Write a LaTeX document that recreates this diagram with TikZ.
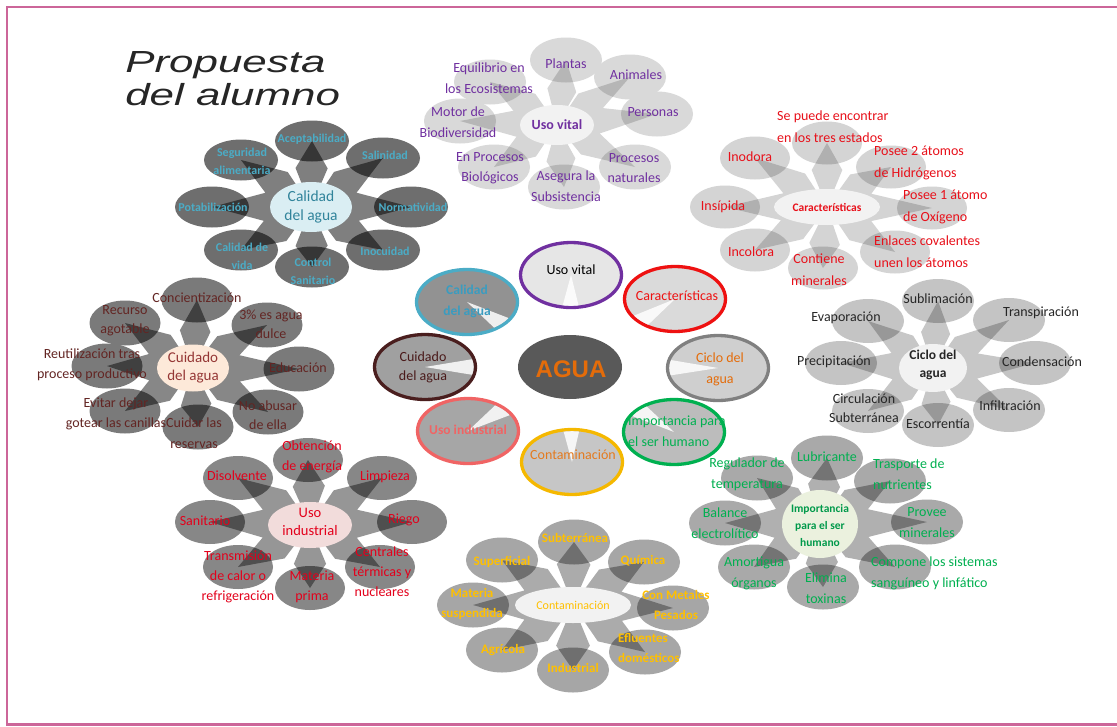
\documentclass[tikz,border=0pt]{standalone}
\usepackage{fontspec}
\setmainfont{Carlito}
\newfontfamily\arialf{Liberation Sans}
\usetikzlibrary{shapes.geometric,calc}
\definecolor{frameC}{HTML}{CC6699}
\definecolor{titleC}{HTML}{262626}
\definecolor{hubG}{HTML}{F2F2F2}
\definecolor{caSat}{HTML}{6E6E6E}
\definecolor{caHub}{HTML}{DAEEF3}
\definecolor{caTxt}{HTML}{4BACC6}
\definecolor{caHubTxt}{HTML}{31849B}
\definecolor{uvSat}{HTML}{D9D9D9}
\definecolor{uvTxt}{HTML}{7030A0}
\definecolor{chSat}{HTML}{D4D4D4}
\definecolor{chTxt}{HTML}{E8101A}
\definecolor{ciSat}{HTML}{C4C4C4}
\definecolor{ciTxt}{HTML}{262626}
\definecolor{imSat}{HTML}{A9A9A9}
\definecolor{imHub}{HTML}{EBF1DE}
\definecolor{imTxt}{HTML}{00B050}
\definecolor{imHubTxt}{HTML}{00994A}
\definecolor{coSat}{HTML}{A6A6A6}
\definecolor{coTxt}{HTML}{FFC000}
\definecolor{uiSat}{HTML}{878787}
\definecolor{uiHub}{HTML}{F2DCDB}
\definecolor{uiTxt}{HTML}{E3001B}
\definecolor{cuSat}{HTML}{7A7A7A}
\definecolor{cuHub}{HTML}{FDE9D9}
\definecolor{cuTxt}{HTML}{632523}
\definecolor{cuHubTxt}{HTML}{953735}
\definecolor{aguaC}{HTML}{595959}
\definecolor{aguaTxt}{HTML}{E46C0A}
\definecolor{rf1}{HTML}{E6E6E6}
\definecolor{rf2}{HTML}{DADADA}
\definecolor{rf3}{HTML}{CFCFCF}
\definecolor{rf4}{HTML}{BCBCBC}
\definecolor{rf5}{HTML}{C6C6C6}
\definecolor{rf6}{HTML}{A6A6A6}
\definecolor{rf7}{HTML}{A0A0A0}
\definecolor{rf8}{HTML}{929292}
\definecolor{rb1}{HTML}{7030A0}
\definecolor{rb2}{HTML}{EE1111}
\definecolor{rb3}{HTML}{808080}
\definecolor{rb4}{HTML}{00B050}
\definecolor{rb5}{HTML}{F5B800}
\definecolor{rb6}{HTML}{F06464}
\definecolor{rb7}{HTML}{4A1E1E}
\definecolor{rb8}{HTML}{4BACC6}
\definecolor{rt3}{HTML}{E46C0A}
\definecolor{rt5}{HTML}{E47A1E}
\definecolor{rt7}{HTML}{4A1A1A}
\definecolor{rt8}{HTML}{3A9CC0}
\newcommand\clusterstar[3]{%
  \fill[black, fill opacity=#3] foreach \i in {1,...,8} {(#1) -- ($(#1)!#2!22.5:(#1\i.center)$) -- (#1\i.center) -- ($(#1)!#2!-22.5:(#1\i.center)$) -- cycle};}
\tikzset{
  sat/.style={ellipse, inner sep=0pt, minimum width=72pt, minimum height=45pt},
  hub/.style={ellipse, inner sep=0pt},
  L/.style={inner sep=0pt, align=center, font=\fontsize{14}{20.5}\selectfont},
  ring/.style={ellipse, inner sep=0pt, minimum width=101pt, minimum height=65pt, line width=3.3pt},
  wedge/.style={fill=white, fill opacity=0.85},
}
\begin{document}
\begin{tikzpicture}[x=1pt,y=-1pt]
\useasboundingbox (0,0) rectangle (1117,726);
\fill[white] (0,0) rectangle (1117,726);
\draw[frameC, line width=2.5pt] (1117,7) -- (7,7) -- (7,724.5) -- (1117,724.5);

% Title
\node[anchor=base west, xscale=1.44, inner sep=0pt, text=titleC, font=\arialf\itshape\fontsize{30.5}{33}\selectfont] (ti1) at (125,72) {Propuesta};
\node[anchor=base west, xscale=1.44, inner sep=0pt, text=titleC, font=\arialf\itshape\fontsize{30.5}{33}\selectfont] (ti2) at (125,105) {del alumno};

% ===== Calidad del agua =====
\coordinate (ca) at (311,207);
\begin{scope}[every node/.append style={sat, fill=caSat, minimum width=74pt, minimum height=41pt}]
\node (ca1) at (312,141) {};
\node (ca2) at (383,158) {};
\node (ca3) at (411,207) {};
\node (ca4) at (383,250) {};
\node (ca5) at (312,267) {};
\node (ca6) at (241,250) {};
\node (ca7) at (212,207) {};
\node (ca8) at (241,160) {};
\end{scope}
\clusterstar{ca}{42pt}{0.5}
\node[hub, fill=caHub, minimum width=82pt, minimum height=50pt] (cah) at (ca) {};
\node[L, text=caHubTxt, font=\fontsize{15.5}{19}\selectfont] (caht) at (311,207) {Calidad\\del agua};
\begin{scope}[every node/.append style={L, text=caTxt, font=\bfseries\fontsize{12}{18}\selectfont}]
\node (ca1t) at (312,139) {Aceptabilidad};
\node (ca2t) at (385,155) {Salinidad};
\node (ca3t) at (413,207) {Normatividad};
\node (ca4t) at (385,251) {Inocuidad};
\node (ca5t) at (313,271) {Control\\Sanitario};
\node (ca6t) at (242,256) {Calidad de\\vida};
\node (ca7t) at (213,207) {Potabilización};
\node (ca8t) at (242,161) {Seguridad\\alimentaria};
\end{scope}

% ===== Uso vital =====
\coordinate (uv) at (557,125);
\begin{scope}[every node/.append style={sat, fill=uvSat}]
\node (uv1) at (566,60) {};
\node (uv2) at (630,77) {};
\node (uv3) at (657,114) {};
\node (uv4) at (635,167) {};
\node (uv5) at (564,187) {};
\node (uv6) at (494,167) {};
\node (uv7) at (460,121) {};
\node (uv8) at (490,82) {};
\end{scope}
\clusterstar{uv}{38pt}{0.16}
\node[hub, fill=hubG, minimum width=74pt, minimum height=40pt] (uvh) at (uv) {};
\node[L, text=uvTxt, font=\bfseries\fontsize{14}{20}\selectfont] (uvht) at (557,125) {Uso vital};
\begin{scope}[every node/.append style={L, text=uvTxt}]
\node (uv1t) at (566,64) {Plantas};
\node (uv2t) at (636,75) {Animales};
\node (uv3t) at (653,112) {Personas};
\node (uv4t) at (634,168) {Procesos\\naturales};
\node (uv5t) at (566,186) {Asegura la\\Subsistencia};
\node (uv6t) at (490,168) {En Procesos\\Biológicos};
\node (uv7t) at (458,122) {Motor de\\Biodiversidad};
\node (uv8t) at (489,78) {Equilibrio en\\los Ecosistemas};
\end{scope}

% ===== Caracteristicas =====
\coordinate (ch) at (827,207);
\begin{scope}[every node/.append style={sat, fill=chSat, minimum width=70pt, minimum height=43pt}]
\node (ch1) at (827,143) {};
\node (ch2) at (891,167) {};
\node (ch3) at (932,208) {};
\node (ch4) at (895,252) {};
\node (ch5) at (823,268) {};
\node (ch6) at (755,250) {};
\node (ch7) at (725,207) {};
\node (ch8) at (755,158) {};
\end{scope}
\clusterstar{ch}{40pt}{0.17}
\node[hub, fill=hubG, minimum width=106pt, minimum height=36pt] (chh) at (ch) {};
\node[L, text=chTxt, font=\bfseries\fontsize{11.5}{16}\selectfont] (chht) at (827,207) {Características};
\begin{scope}[every node/.append style={L, text=chTxt, font=\fontsize{14}{22}\selectfont}]
\node[anchor=west, align=left] (ch1t) at (777,127) {Se puede encontrar\\en los tres estados};
\node[anchor=west, align=left] (ch2t) at (874,163) {Posee 2 átomos\\de Hidrógenos};
\node[anchor=west, align=left] (ch3t) at (903,207) {Posee 1 átomo\\de Oxígeno};
\node[anchor=west, align=left] (ch4t) at (874,252) {Enlaces covalentes\\unen los átomos};
\node (ch5t) at (819,270) {Contiene\\minerales};
\node (ch6t) at (751,252) {Incolora};
\node (ch7t) at (723,207) {Insípida};
\node (ch8t) at (750,157) {Inodora};
\end{scope}

% ===== Ciclo del agua =====
\coordinate (ci) at (933,368);
\begin{scope}[every node/.append style={sat, fill=ciSat, minimum width=72pt, minimum height=44pt}]
\node (ci1) at (938,301) {};
\node (ci2) at (1009,320) {};
\node (ci3) at (1035,363) {};
\node (ci4) at (1009,410) {};
\node (ci5) at (938,425) {};
\node (ci6) at (868,411) {};
\node (ci7) at (841,363) {};
\node (ci8) at (868,321) {};
\end{scope}
\clusterstar{ci}{38pt}{0.22}
\node[hub, fill=hubG, minimum width=68pt, minimum height=48pt] (cih) at (ci) {};
\node[L, text=ciTxt, font=\bfseries\fontsize{13.5}{18}\selectfont] (ciht) at (933,365) {Ciclo del\\agua};
\begin{scope}[every node/.append style={L, text=ciTxt, font=\fontsize{14}{19}\selectfont}]
\node (ci1t) at (938,299) {Sublimación};
\node (ci2t) at (1041,313) {Transpiración};
\node (ci3t) at (1042,362) {Condensación};
\node (ci4t) at (1010,406) {Infiltración};
\node (ci5t) at (938,424) {Escorrentía};
\node (ci6t) at (864,408) {Circulación\\Subterránea};
\node (ci7t) at (834,362) {Precipitación};
\node (ci8t) at (846,318) {Evaporación};
\end{scope}

% ===== Importancia =====
\coordinate (im) at (820,524);
\begin{scope}[every node/.append style={sat, fill=imSat}]
\node (im1) at (827,458) {};
\node (im2) at (890,481) {};
\node (im3) at (927,522) {};
\node (im4) at (895,567) {};
\node (im5) at (823,587) {};
\node (im6) at (754,567) {};
\node (im7) at (725,523) {};
\node (im8) at (757,478) {};
\end{scope}
\clusterstar{im}{42pt}{0.31}
\node[hub, fill=imHub, minimum width=76pt, minimum height=68pt] (imh) at (im) {};
\node[L, text=imHubTxt, font=\bfseries\fontsize{11.5}{17}\selectfont] (imht) at (820,525) {Importancia\\para el ser\\humano};
\begin{scope}[every node/.append style={L, text=imTxt, font=\fontsize{14}{21}\selectfont}]
\node (im1t) at (827,457) {Lubricante};
\node[anchor=west, align=left] (im2t) at (873,474) {Trasporte de\\nutrientes};
\node (im3t) at (927,523) {Provee\\minerales};
\node[anchor=west, align=left] (im4t) at (871,573) {Compone los sistemas\\sanguíneo y linfático};
\node (im5t) at (826,588) {Elimina\\toxinas};
\node (im6t) at (754,573) {Amortigua\\órganos};
\node (im7t) at (725,523) {Balance\\electrolítico};
\node (im8t) at (747,474) {Regulador de\\temperatura};
\end{scope}

% ===== Contaminacion =====
\coordinate (co) at (573,605);
\begin{scope}[every node/.append style={sat, fill=coSat}]
\node (co1) at (574,542) {};
\node (co2) at (644,562) {};
\node (co3) at (673,608) {};
\node (co4) at (645,652) {};
\node (co5) at (573,670) {};
\node (co6) at (502,650) {};
\node (co7) at (473,605) {};
\node (co8) at (502,560) {};
\end{scope}
\clusterstar{co}{44pt}{0.33}
\node[hub, fill=hubG, minimum width=116pt, minimum height=36pt] (coh) at (co) {};
\node[L, text=coTxt, font=\fontsize{12}{16}\selectfont] (coht) at (573,605) {Contaminación};
\begin{scope}[every node/.append style={L, text=coTxt, font=\bfseries\fontsize{13}{20}\selectfont}]
\node (co1t) at (575,538) {Subterránea};
\node (co2t) at (643,561) {Química};
\node (co3t) at (676,605) {Con Metales\\Pesados};
\node[anchor=west, align=left] (co4t) at (618,648) {Efluentes\\domésticos};
\node (co5t) at (573,668) {Industrial};
\node (co6t) at (503,650) {Agrícola};
\node (co7t) at (472,604) {Materia\\suspendida};
\node (co8t) at (502,562) {Superficial};
\end{scope}

% ===== Uso industrial =====
\coordinate (ui) at (310,525);
\begin{scope}[every node/.append style={sat, fill=uiSat, minimum width=70pt, minimum height=44pt}]
\node (ui1) at (308,460) {};
\node (ui2) at (382,478) {};
\node (ui3) at (412,522) {};
\node (ui4) at (380,567) {};
\node (ui5) at (310,588) {};
\node (ui6) at (238,567) {};
\node (ui7) at (210,522) {};
\node (ui8) at (238,478) {};
\end{scope}
\clusterstar{ui}{42pt}{0.41}
\node[hub, fill=uiHub, minimum width=84pt, minimum height=46pt] (uih) at (ui) {};
\node[L, text=uiTxt, font=\fontsize{14.5}{18}\selectfont] (uiht) at (310,522) {Uso\\industrial};
\begin{scope}[every node/.append style={L, text=uiTxt, font=\fontsize{14}{20}\selectfont}]
\node (ui1t) at (312,457) {Obtención\\de energía};
\node (ui2t) at (385,477) {Limpieza};
\node (ui3t) at (404,520) {Riego};
\node (ui4t) at (382,572) {Centrales\\térmicas y\\nucleares};
\node (ui5t) at (312,587) {Materia\\prima};
\node (ui6t) at (238,577) {Transmisión\\de calor o\\refrigeración};
\node (ui7t) at (205,521) {Sanitario};
\node (ui8t) at (237,476) {Disolvente};
\end{scope}

% ===== Cuidado del agua =====
\coordinate (cu) at (193,368);
\begin{scope}[every node/.append style={sat, fill=cuSat, minimum width=71pt, minimum height=45pt}]
\node (cu1) at (197,300) {};
\node (cu2) at (267,325) {};
\node (cu3) at (299,369) {};
\node (cu4) at (268,412) {};
\node (cu5) at (198,427) {};
\node (cu6) at (125,411) {};
\node (cu7) at (107,366) {};
\node (cu8) at (125,323) {};
\end{scope}
\clusterstar{cu}{40pt}{0.47}
\node[hub, fill=cuHub, minimum width=72pt, minimum height=47pt] (cuh) at (cu) {};
\node[L, text=cuHubTxt, font=\fontsize{15}{18}\selectfont] (cuht) at (193,368) {Cuidado\\del agua};
\begin{scope}[every node/.append style={L, text=cuTxt, font=\fontsize{14}{19}\selectfont}]
\node (cu1t) at (197,298) {Concientización};
\node (cu2t) at (271,324) {3\% es agua\\dulce};
\node (cu3t) at (298,368) {Educación};
\node (cu4t) at (268,415) {No abusar\\de ella};
\node[font=\fontsize{14}{21}\selectfont] (cu5t) at (194,433) {Cuidar las\\reservas};
\node[font=\fontsize{14}{20}\selectfont] (cu6t) at (116,414) {Evitar dejar\\gotear las canillas};
\node[font=\fontsize{14}{20}\selectfont] (cu7t) at (92,365) {Reutilización tras\\proceso productivo};
\node (cu8t) at (125,321) {Recurso\\agotable};
\end{scope}

% ===== Central ring =====
\coordinate (agua) at (570,367);
\node[ring, fill=rf1, draw=rb1] (r1) at (571,275) {};
\node[ring, fill=rf2, draw=rb2] (r2) at (675,299) {};
\node[ring, fill=rf3, draw=rb3] (r3) at (718,368) {};
\node[ring, fill=rf4, draw=rb4] (r4) at (674,432) {};
\node[ring, fill=rf5, draw=rb5] (r5) at (572,462) {};
\node[ring, fill=rf6, draw=rb6] (r6) at (468,431) {};
\node[ring, fill=rf7, draw=rb7] (r7) at (425,367) {};
\node[ring, fill=rf8, draw=rb8] (r8) at (467,302) {};
\foreach \i in {1,...,8} {
  \begin{scope}
    \clip (r\i.center) ellipse [x radius=48.6pt, y radius=30.8pt];
    \fill[wedge] ($(agua)!24pt!90:(r\i.center)$) -- (r\i.center) -- ($(agua)!24pt!-90:(r\i.center)$) -- cycle;
  \end{scope}
}
\node[ellipse, inner sep=0pt, fill=aguaC, minimum width=104pt, minimum height=64pt] (aguan) at (agua) {};
\node[inner sep=0pt, text=aguaTxt, font=\arialf\bfseries\fontsize{24}{24}\selectfont] (aguat) at (571,369) {AGUA};

\node[L, text=black] (r1t) at (571,270) {Uso vital};
\node[L, text=rb2] (r2t) at (677,296) {Características};
\node[L, text=rt3, font=\fontsize{14}{21}\selectfont] (r3t) at (720,369) {Ciclo del\\agua};
\node[L, text=rb4, anchor=west, align=left, font=\fontsize{14}{21}\selectfont] (r4t) at (628,431) {Importancia para\\el ser humano};
\node[L, text=rt5] (r5t) at (573,455) {Contaminación};
\node[L, text=rb6, font=\bfseries\fontsize{13.5}{18}\selectfont] (r6t) at (468,430) {Uso industrial};
\node[L, text=rt7, font=\fontsize{14}{19}\selectfont] (r7t) at (423,367) {Cuidado\\del agua};
\node[L, text=rt8, font=\bfseries\fontsize{13.5}{21}\selectfont] (r8t) at (467,301) {Calidad\\del agua};
\end{tikzpicture}
\end{document}
